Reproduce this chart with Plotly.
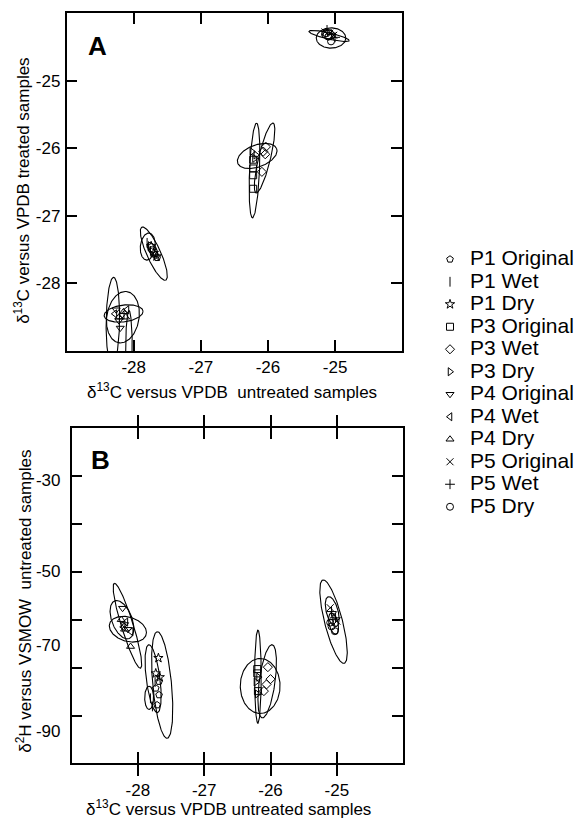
import numpy as np
import plotly.graph_objects as go

# ---------------- data ----------------
series = ["P1 Original", "P1 Wet", "P1 Dry", "P3 Original", "P3 Wet", "P3 Dry",
          "P4 Original", "P4 Wet", "P4 Dry", "P5 Original", "P5 Wet", "P5 Dry"]
symbols = ["pentagon-open", "line-ns-open", "star-open", "square-open", "diamond-open",
           "triangle-right-open", "triangle-down-open", "triangle-left-open",
           "triangle-up-open", "x-thin-open", "cross-thin-open", "circle-open"]

# Panel A: d13C untreated (x) vs d13C treated (y)
a_x = {
    "P1 Original": [-27.72, -27.68, -27.65],
    "P1 Wet": [-27.78, -27.75, -27.80],
    "P1 Dry": [-27.74, -27.70, -27.66],
    "P3 Original": [-26.22, -26.22, -26.22, -26.22],
    "P3 Wet": [-26.03, -26.04, -26.09, -26.07],
    "P3 Dry": [-26.24, -26.20, -26.18],
    "P4 Original": [-28.26, -28.20, -28.22],
    "P4 Wet": [-28.10, -28.17, -28.28],
    "P4 Dry": [-28.15, -28.22, -28.12],
    "P5 Original": [-25.15, -25.08, -25.02],
    "P5 Wet": [-25.12, -25.05, -25.00],
    "P5 Dry": [-25.10, -25.06, -25.13],
}
a_y = {
    "P1 Original": [-27.50, -27.58, -27.62],
    "P1 Wet": [-27.45, -27.52, -27.40],
    "P1 Dry": [-27.45, -27.55, -27.60],
    "P3 Original": [-26.17, -26.30, -26.40, -26.60],
    "P3 Wet": [-25.98, -26.09, -26.35, -26.05],
    "P3 Dry": [-26.05, -26.15, -26.10],
    "P4 Original": [-28.39, -28.66, -28.55],
    "P4 Wet": [-28.39, -28.47, -28.45],
    "P4 Dry": [-28.42, -28.50, -28.50],
    "P5 Original": [-24.28, -24.30, -24.33],
    "P5 Wet": [-24.25, -24.32, -24.36],
    "P5 Dry": [-24.35, -24.42, -24.30],
}

# Panel B: d13C untreated (x) vs d2H untreated (y)
b_x = {
    "P1 Original": [-27.68, -27.73, -27.68, -27.71],
    "P1 Wet": [-27.81, -27.78, -27.74],
    "P1 Dry": [-27.69, -27.73, -27.67],
    "P3 Original": [-26.20, -26.20, -26.19],
    "P3 Wet": [-26.04, -26.00, -26.06, -26.10],
    "P3 Dry": [-26.22, -26.20, -26.18],
    "P4 Original": [-28.23, -28.20, -28.15],
    "P4 Wet": [-28.22, -28.18, -28.10],
    "P4 Dry": [-28.25, -28.20, -28.11],
    "P5 Original": [-25.10, -25.05, -25.00],
    "P5 Wet": [-25.08, -25.02, -25.06],
    "P5 Dry": [-25.08, -25.03, -25.10],
}
b_y = {
    "P1 Original": [-72.9, -74.3, -75.7, -77.8],
    "P1 Wet": [-76.4, -78.1, -73.0],
    "P1 Dry": [-68.0, -71.2, -72.0],
    "P3 Original": [-70.3, -71.2, -74.9],
    "P3 Wet": [-69.9, -72.4, -73.5, -74.9],
    "P3 Dry": [-73.0, -75.5, -72.0],
    "P4 Original": [-57.6, -61.0, -62.0],
    "P4 Wet": [-61.5, -60.5, -62.5],
    "P4 Dry": [-60.0, -62.0, -65.6],
    "P5 Original": [-57.5, -59.0, -60.3],
    "P5 Wet": [-58.3, -59.6, -60.0],
    "P5 Dry": [-61.4, -62.4, -60.6],
}

# confidence ellipses: (series, centre x, centre y, axis-1 x, axis-1 y, axis-2 x, axis-2 y)
a_ellipses = [
    ("P5 Original", -25.09, -24.34, 0.30, -0.07, 0.011, 0.045),
    ("P5 Wet", -25.06, -24.37, 0.22, 0.0, 0.0, 0.15),
    ("P5 Dry", -25.10, -24.32, 0.10, -0.02, 0.01, 0.07),
    ("P3 Original", -26.20, -26.33, 0.03, 0.70, 0.074, -0.003),
    ("P3 Wet", -26.05, -26.145, 0.126, 0.518, 0.086, -0.021),
    ("P3 Dry", -26.16, -26.115, 0.29, 0.106, -0.056, 0.153),
    ("P1 Original", -27.70, -27.56, -0.178, 0.392, 0.094, 0.043),
    ("P1 Wet", -27.79, -27.455, 0.02, 0.20, 0.11, -0.01),
    ("P1 Dry", -27.72, -27.50, 0.06, -0.10, 0.05, 0.03),
    ("P4 Original", -28.31, -28.56, 0.01, 0.65, 0.10, 0.0),
    ("P4 Wet", -28.15, -28.445, 0.29, 0.03, 0.0, 0.125),
    ("P4 Dry", -28.16, -28.50, 0.05, 0.38, 0.24, -0.02),
    ("P4 Dry", -28.07, -29.00, 0.0, 0.60, 0.05, 0.0),
]
b_ellipses = [
    ("P5 Original", -25.05, -60.41, -0.161, 8.69, 0.13, 0.47),
    ("P5 Wet", -25.07, -58.3, -0.06, 3.1, 0.086, 0.32),
    ("P5 Dry", -25.05, -60.8, -0.03, 2.2, 0.07, 0.0),
    ("P3 Original", -26.19, -71.89, 0.0, 9.74, 0.05, 0.0),
    ("P3 Wet", -26.05, -72.85, 0.0745, 7.64, 0.118, -0.225),
    ("P3 Dry", -26.156, -73.83, 0.0, 5.74, 0.30, 0.0),
    ("P1 Original", -27.633, -73.62, -0.075, 11.12, 0.141, 0.185),
    ("P1 Wet", -27.77, -72.3, -0.063, 7.08, 0.104, 0.0),
    ("P1 Dry", -27.83, -76.3, 0.0, 2.43, 0.067, 0.0),
    ("P4 Original", -28.157, -61.27, -0.198, 8.85, 0.085, 0.373),
    ("P4 Wet", -28.24, -60.0, -0.08, 4.0, 0.16, 0.0),
    ("P4 Dry", -28.15, -61.98, 0.28, -0.69, 0.0, 2.6),
]

a_xticks = [-28, -27, -26, -25]
a_xticktext = ["-28", "-27", "-26", "-25"]
a_yticks = [-25, -26, -27, -28]
a_yticktext = ["-25", "-26", "-27", "-28"]
b_xticks = [-28, -27, -26, -25]
b_xticktext = ["-28", "-27", "-26", "-25"]
b_yticks = [-30, -40, -50, -60, -70, -80]
b_ylabel_text = ["-30", "-50", "-70", "-90"]
b_ylabel_pos = [-30.8, -49.9, -65.2, -83.3]

# ---------------- figure ----------------
W, H = 579, 821
FONT = "Arial, Liberation Sans, sans-serif"
fig = go.Figure()

t = np.linspace(0, 2 * np.pi, 181)


def add_ellipses(ells, xa, ya):
    for (name, cx, cy, ux, uy, vx, vy) in ells:
        fig.add_trace(go.Scatter(
            x=cx + ux * np.cos(t) + vx * np.sin(t),
            y=cy + uy * np.cos(t) + vy * np.sin(t),
            mode="lines", line=dict(color="black", width=1.1),
            xaxis=xa, yaxis=ya, showlegend=False, hoverinfo="skip"))


def add_points(px, py, xa, ya, legend):
    for name, sym in zip(series, symbols):
        fig.add_trace(go.Scatter(
            x=px[name], y=py[name], mode="markers",
            name='<span style="font-size:21px">' + name + "</span>",
            marker=dict(symbol=sym, size=7, color="black",
                        line=dict(color="black", width=1)),
            xaxis=xa, yaxis=ya, showlegend=legend))


add_ellipses(a_ellipses, "x", "y")
add_points(a_x, a_y, "x", "y", True)
add_ellipses(b_ellipses, "x2", "y2")
add_points(b_x, b_y, "x2", "y2", False)

# dummy trace to carry the B y-axis labels
fig.add_trace(go.Scatter(x=[None], y=[None], xaxis="x2", yaxis="y3",
                         showlegend=False, hoverinfo="skip"))

ax_common = dict(showline=True, linecolor="black", linewidth=1.5, mirror="allticks",
                 ticks="inside", ticklen=11, tickwidth=1.5, tickcolor="black",
                 showgrid=False, zeroline=False,
                 tickfont=dict(family=FONT, size=17, color="black"))

fig.update_layout(
    width=W, height=H, margin=dict(l=0, r=0, t=0, b=0),
    paper_bgcolor="white", plot_bgcolor="white",
    font=dict(family=FONT, color="black"),
    xaxis=dict(domain=[67 / W, 405 / W], range=[-29, -24], tickvals=a_xticks,
               ticktext=a_xticktext, anchor="y", ticklabelstandoff=0, **ax_common),
    yaxis=dict(domain=[1 - 351 / H, 1 - 13 / H], range=[-29, -24], tickvals=a_yticks,
               ticktext=a_yticktext, anchor="x", ticklabelstandoff=1, **ax_common),
    xaxis2=dict(domain=[72 / W, 406 / W], range=[-29, -24], tickvals=b_xticks,
                ticktext=b_xticktext, anchor="y2", ticklabelstandoff=11, **ax_common),
    yaxis2=dict(domain=[1 - 763 / H, 1 - 428 / H], range=[-89.9, -20], tickvals=b_yticks,
                anchor="x2", showticklabels=False, **ax_common),
    yaxis3=dict(domain=[1 - 763 / H, 1 - 428 / H], range=[-89.9, -20],
                overlaying="y2", anchor="x2", side="left", showline=False,
                showgrid=False, zeroline=False, ticks="",
                tickvals=b_ylabel_pos, ticktext=b_ylabel_text, ticklabelstandoff=10,
                tickfont=dict(family=FONT, size=17, color="black")),
    legend=dict(x=433 / W, xanchor="left", y=1 - 243 / H, yanchor="top",
                font=dict(family=FONT, size=15, color="black"),
                bgcolor="rgba(0,0,0,0)", borderwidth=0, tracegroupgap=0),
    showlegend=True,
)

sp = "\u00a0"
annots = [
    dict(text="<b>A</b>", x=98 / W, y=1 - 46.5 / H, font=dict(size=26)),
    dict(text="<b>B</b>", x=101 / W, y=1 - 459.5 / H, font=dict(size=26)),
    dict(text="\u03b4<sup>13</sup>C versus VPDB " + sp + "untreated samples",
         x=234 / W, y=1 - 391 / H, font=dict(size=17)),
    dict(text="\u03b4<sup>13</sup>C versus VPDB treated samples",
         x=22 / W, y=1 - 191 / H, font=dict(size=17), textangle=-90),
    dict(text="\u03b4<sup>13</sup>C versus VPDB untreated samples",
         x=230 / W, y=1 - 808 / H, font=dict(size=17)),
    dict(text="\u03b4<sup>2</sup>H versus VSMOW " + sp + "untreated samples",
         x=24 / W, y=1 - 601 / H, font=dict(size=17), textangle=-90),
]
for a in annots:
    a.update(xref="paper", yref="paper", xanchor="center", yanchor="middle",
             showarrow=False)
    a["font"] = dict(family=FONT, color="black", size=a["font"]["size"])
    fig.add_annotation(**a)

fig.write_html("out.html", config={"displayModeBar": False},
               post_script="document.body.style.margin='0';")
